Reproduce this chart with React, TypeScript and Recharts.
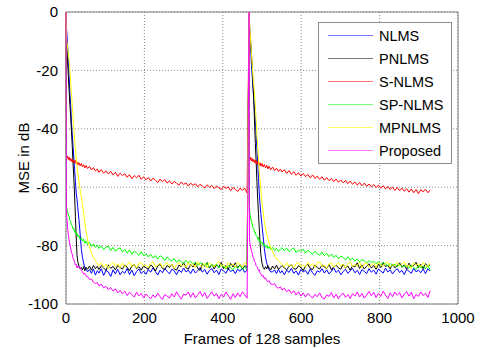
import React from "react";
import {
  LineChart,
  Line,
  XAxis,
  YAxis,
  CartesianGrid,
  ReferenceArea,
} from "recharts";

// frame offsets inside one run; the echo path changes at RESTART and the run is repeated
const RESTART = 467;
const REL_FRAMES = [
  0, 1, 2, 4, 6, 8, 10, 12, 14, 16,
  18, 20, 22, 24, 26, 28, 30, 33, 36, 39,
  42, 45, 48, 51, 55, 60, 65, 70, 75, 80,
  84, 90, 96, 102, 108, 114, 120, 126, 132, 138,
  144, 150, 156, 162, 168, 174, 180, 186, 192, 198,
  204, 210, 216, 222, 228, 234, 240, 246, 252, 258,
  264, 270, 276, 282, 288, 294, 300, 306, 312, 318,
  324, 330, 336, 342, 348, 354, 360, 366, 372, 378,
  384, 390, 396, 402, 408, 414, 420, 426, 432, 438,
  444, 450, 456, 462,
];

const X_TICKS = [0, 200, 400, 600, 800, 1000];
const Y_TICKS = [-100, -80, -60, -40, -20, 0];

// MSE in dB, first run / second run
const NLMS_1 = [
  0, -5, -7, -11, -16, -22, -28, -32, -38, -42,
  -46, -50, -54, -58, -62, -64, -67, -71, -76, -81,
  -84, -86, -87.5, -88, -89, -88.2, -89.5, -88.0, -90.1, -88.6,
  -89.4, -87.9, -90.2, -88.5, -89.0, -90.6, -88.3, -89.7, -88.1, -90.0,
  -88.8, -89.5, -87.8, -89.9, -88.4, -90.3, -88.9, -88.0, -89.6, -88.7,
  -89.8, -88.2, -89.1, -87.6, -88.9, -90.1, -88.4, -89.3, -87.9, -88.8,
  -89.7, -88.1, -88.6, -90.0, -88.3, -89.2, -87.7, -89.0, -88.4, -89.6,
  -88.0, -89.4, -88.6, -87.5, -89.1, -88.2, -89.8, -88.5, -87.9, -89.3,
  -88.4, -89.9, -88.0, -88.7, -89.5, -87.8, -88.9, -88.3, -89.6, -88.1,
  -88.8, -87.7, -89.2, -88.4,
];
const NLMS_2 = [
  0, -3, -8, -12, -18, -22, -26, -30, -33, -37,
  -42, -47, -52, -57, -62, -66, -69, -73, -77, -81,
  -84, -86, -87.3, -88.2, -89, -89.0, -88.3, -89.6, -88.1, -89.4,
  -88.6, -90.0, -88.4, -89.2, -87.8, -89.5, -88.7, -90.1, -88.2, -89.0,
  -88.5, -89.8, -88.0, -89.3, -90.2, -88.6, -89.1, -87.9, -89.4, -88.3,
  -89.7, -88.8, -87.6, -89.2, -88.4, -90.0, -88.9, -88.1, -89.5, -88.6,
  -87.8, -89.3, -88.5, -89.9, -88.2, -88.8, -89.6, -87.9, -89.1, -88.4,
  -89.8, -88.0, -88.7, -89.4, -87.7, -89.0, -88.3, -89.7, -88.6, -87.9,
  -89.2, -88.5, -89.9, -88.1, -88.8, -89.5, -87.8, -89.0, -88.4, -89.3,
  -88.0, -89.6, -87.9, -88.7,
];

const PNLMS_1 = [
  0, -8, -12, -17, -22, -27, -32, -36, -41, -46,
  -52, -57, -63, -70, -77, -83, -85.5, -87, -88, -87.5,
  -88.3, -87.2, -88.6, -87.4, -88.1, -87.0, -88.4, -86.8, -87.9, -87.1,
  -88.2, -86.9, -87.7, -88.5, -86.6, -87.8, -87.1, -88.3, -86.8, -87.5,
  -88.0, -86.7, -87.4, -88.6, -87.0, -86.5, -87.9, -87.2, -88.4, -86.9,
  -87.6, -88.1, -86.6, -87.3, -88.7, -87.0, -86.4, -87.8, -88.2, -86.8,
  -87.5, -86.3, -87.9, -88.4, -86.7, -87.2, -85.9, -87.6, -88.1, -86.5,
  -87.3, -86.0, -87.8, -88.5, -86.2, -87.1, -85.8, -87.7, -86.4, -88.0,
  -86.6, -87.4, -85.7, -87.9, -86.8, -88.2, -86.1, -87.3, -85.9, -87.6,
  -86.5, -88.0, -86.9, -87.4,
];
const PNLMS_2 = [
  0, -4, -7, -10, -14, -19, -24, -30, -38, -45,
  -51, -58, -64, -69, -74, -79, -83, -86, -87.5, -88.1,
  -87.2, -88.0, -86.9, -87.7, -88.4, -87.0, -87.9, -86.7, -88.2, -87.4,
  -86.8, -87.6, -88.3, -87.1, -86.5, -87.9, -88.1, -86.9, -87.4, -88.6,
  -87.0, -86.4, -87.8, -88.2, -86.7, -87.5, -88.0, -86.6, -87.3, -87.9,
  -86.5, -88.3, -87.2, -86.8, -87.6, -88.1, -86.4, -87.7, -87.0, -88.4,
  -86.9, -87.3, -85.9, -87.8, -86.6, -88.0, -87.1, -86.2, -87.7, -86.8,
  -88.1, -86.4, -87.5, -85.8, -87.2, -86.7, -88.0, -86.3, -87.6, -86.9,
  -85.9, -87.4, -86.6, -88.1, -86.0, -87.3, -86.8, -85.7, -87.5, -86.4,
  -87.9, -86.2, -87.0, -86.5,
];

const SNLMS_1 = [
  0, -49, -50.2, -49.3, -50.5, -49.8, -50.9, -50.1, -51.2, -50.4,
  -51.5, -50.8, -51.6, -50.9, -52.0, -51.3, -52.4, -51.6, -52.7, -51.9,
  -53.0, -52.3, -53.4, -52.6, -53.6, -52.9, -54.1, -53.3, -54.4, -53.8,
  -54.9, -54.0, -55.2, -54.4, -55.5, -54.6, -55.8, -54.9, -56.3, -55.2,
  -56.0, -55.4, -56.6, -55.7, -57.1, -56.0, -56.8, -55.9, -57.3, -56.4,
  -57.5, -56.7, -57.9, -56.9, -57.6, -58.4, -57.2, -58.1, -57.4, -58.6,
  -57.8, -58.9, -58.0, -58.7, -59.3, -58.2, -59.1, -58.5, -59.6, -58.6,
  -59.4, -58.8, -59.9, -59.0, -59.6, -60.3, -59.2, -60.0, -59.4, -60.5,
  -59.6, -60.2, -60.8, -59.7, -60.4, -59.9, -61.2, -60.1, -60.7, -61.5,
  -60.3, -61.0, -60.4, -62.0,
];
const SNLMS_2 = [
  0, -49.6, -50.8, -49.7, -51.0, -50.2, -51.3, -50.5, -51.6, -50.7,
  -51.9, -51.0, -52.2, -51.3, -52.5, -51.6, -52.8, -51.9, -53.1, -52.2,
  -53.4, -52.5, -53.7, -52.8, -54.0, -53.1, -54.3, -53.5, -54.6, -53.8,
  -54.8, -54.0, -55.3, -54.3, -55.6, -54.7, -55.9, -55.0, -56.2, -55.3,
  -56.4, -55.6, -56.8, -55.8, -57.0, -56.2, -57.3, -56.4, -57.6, -56.7,
  -57.8, -57.0, -58.1, -57.2, -58.3, -57.5, -58.5, -57.7, -58.8, -57.9,
  -59.0, -58.2, -59.3, -58.4, -59.5, -58.6, -59.7, -58.9, -59.9, -59.1,
  -60.1, -59.3, -60.4, -59.5, -60.6, -59.7, -60.8, -59.9, -61.1, -60.1,
  -61.2, -60.3, -61.4, -60.5, -61.7, -60.6, -61.9, -60.8, -62.2, -60.9,
  -61.6, -60.7, -61.9, -61.0,
];

const SPNLMS_1 = [
  0, -66, -67.5, -68.3, -69.5, -70.2, -71.4, -71.9, -73.0, -73.2,
  -74.3, -74.0, -75.4, -75.1, -76.3, -75.8, -77.0, -76.6, -77.9, -77.3,
  -78.5, -77.8, -79.2, -78.4, -79.6, -78.9, -80.3, -79.4, -80.6, -79.8,
  -81.0, -80.1, -81.4, -80.5, -80.2, -81.7, -80.6, -82.0, -81.1, -80.8,
  -82.2, -81.3, -82.6, -81.5, -83.0, -81.9, -82.5, -83.3, -82.1, -83.6,
  -82.7, -83.9, -83.0, -84.2, -83.4, -84.6, -83.5, -84.0, -85.1, -83.9,
  -84.8, -85.3, -84.4, -85.7, -84.9, -85.5, -86.1, -85.0, -86.0, -85.4,
  -86.4, -85.6, -86.8, -85.9, -86.2, -87.1, -86.0, -87.4, -86.5, -87.0,
  -86.3, -87.6, -86.8, -87.2, -88.0, -86.9, -87.5, -88.3, -87.0, -87.8,
  -86.7, -88.1, -87.3, -88.4,
];
const SPNLMS_2 = [
  0, -67, -69, -70.3, -71.8, -72.6, -73.9, -74.2, -75.5, -75.3,
  -76.6, -76.9, -77.8, -77.2, -78.6, -78.1, -79.3, -78.8, -80.0, -79.4,
  -80.6, -79.9, -81.0, -80.3, -81.4, -80.6, -81.7, -80.9, -82.0, -81.2,
  -80.7, -81.8, -80.9, -82.1, -81.3, -80.8, -82.4, -81.5, -82.0, -81.2,
  -82.6, -81.6, -82.3, -83.0, -81.9, -82.8, -83.3, -82.2, -83.5, -82.6,
  -83.8, -82.9, -84.1, -83.3, -84.5, -83.6, -84.0, -84.9, -83.8, -85.0,
  -84.3, -85.3, -84.6, -85.6, -84.8, -85.2, -86.0, -85.1, -85.8, -85.4,
  -86.2, -85.5, -86.6, -85.8, -86.3, -87.0, -86.1, -86.8, -86.4, -87.2,
  -86.5, -87.4, -86.9, -87.1, -87.8, -86.7, -87.5, -88.2, -86.9, -87.6,
  -87.0, -88.0, -86.8, -88.3,
];

const MPNLMS_1 = [
  0, -8, -10, -12, -14, -17, -20, -24, -28, -32,
  -36, -40, -44, -47, -50, -52.5, -55, -58, -61, -63,
  -66, -69, -72, -75, -78, -80.5, -82.5, -84, -85.2, -86,
  -86.9, -85.9, -87.4, -86.3, -87.8, -86.5, -85.7, -87.1, -86.2, -87.5,
  -86.0, -87.3, -86.6, -85.6, -87.2, -86.4, -87.7, -86.1, -85.8, -87.0,
  -86.7, -87.6, -86.2, -85.5, -87.3, -86.8, -86.0, -87.5, -86.4, -85.9,
  -87.1, -86.3, -87.8, -86.5, -85.7, -87.0, -86.6, -87.4, -85.8, -86.9,
  -86.2, -87.5, -85.6, -86.8, -87.2, -86.0, -87.6, -85.9, -86.7, -87.3,
  -86.1, -85.4, -87.0, -86.5, -87.7, -85.8, -86.9, -86.3, -87.4, -85.7,
  -86.6, -87.2, -85.9, -86.8,
];
const MPNLMS_2 = [
  0, -3, -6, -10, -14, -18, -22, -25, -28, -32,
  -37, -42, -46, -50, -54, -57.5, -61, -65, -68.5, -72,
  -74, -76, -77.5, -79, -80.5, -82, -83.5, -84.5, -85.3, -85.8,
  -86.4, -87.3, -85.9, -87.0, -86.5, -87.6, -86.1, -85.8, -87.2, -86.6,
  -87.4, -85.7, -86.9, -86.2, -87.5, -86.0, -85.6, -87.1, -86.7, -87.8,
  -86.3, -85.9, -87.4, -86.6, -85.8, -87.0, -86.4, -87.7, -86.1, -85.5,
  -87.2, -86.5, -86.9, -85.7, -87.6, -86.2, -85.9, -87.3, -86.8, -86.0,
  -87.5, -85.8, -86.7, -87.1, -86.0, -85.6, -87.4, -86.5, -86.9, -85.7,
  -87.0, -86.3, -85.5, -87.2, -86.6, -87.8, -85.9, -86.8, -86.2, -87.3,
  -85.8, -86.7, -87.1, -86.0,
];

const PROPOSED_1 = [
  0, -67, -70.5, -73.8, -76.2, -78.0, -79.8, -80.9, -82.3, -83.0,
  -84.4, -84.9, -85.8, -86.7, -86.4, -87.6, -87.0, -87.6, -87.4, -88.5,
  -88.9, -89.8, -89.5, -90.4, -90.6, -91.6, -91.4, -92.5, -93.0, -92.7,
  -93.8, -93.2, -94.5, -93.9, -95.1, -94.4, -95.6, -94.8, -96.2, -95.3,
  -96.5, -95.6, -97.1, -96.0, -96.8, -97.6, -95.9, -97.2, -96.4, -97.9,
  -96.6, -97.4, -98.2, -96.9, -97.8, -96.3, -97.5, -98.4, -96.8, -97.3,
  -98.0, -96.5, -97.6, -95.8, -97.2, -98.3, -96.6, -97.0, -95.9, -97.7,
  -96.2, -97.9, -96.8, -95.7, -97.4, -96.1, -98.1, -96.9, -95.8, -97.3,
  -96.4, -98.2, -96.7, -97.6, -95.9, -97.1, -98.4, -96.5, -97.8, -96.2,
  -97.5, -95.8, -96.9, -98.0,
];
const PROPOSED_2 = [
  0, -77, -79, -80.5, -81.8, -82.6, -83.9, -84.3, -85.5, -85.8,
  -86.9, -87.2, -87.8, -88.6, -88.3, -89.4, -89.7, -90.5, -90.2, -91.3,
  -91.0, -91.9, -92.4, -92.0, -93.1, -93.4, -93.0, -94.2, -94.6, -94.1,
  -95.2, -94.6, -95.8, -95.1, -96.4, -95.5, -96.9, -95.8, -97.3, -96.2,
  -97.6, -96.4, -97.1, -98.0, -96.7, -97.5, -96.2, -97.8, -98.3, -96.9,
  -97.4, -96.1, -97.9, -96.6, -98.2, -97.0, -96.3, -97.7, -96.8, -98.1,
  -96.5, -97.3, -95.9, -97.6, -96.4, -98.0, -96.9, -95.7, -97.2, -96.0,
  -97.8, -96.3, -97.4, -95.6, -96.9, -98.1, -96.2, -97.5, -95.9, -97.0,
  -96.1, -97.9, -96.6, -95.8, -97.3, -96.0, -98.2, -96.7, -97.4, -95.9,
  -97.1, -96.3, -97.8, -95.4,
];

const SERIES = [
  { key: "nlms", name: "NLMS", color: "#0000ff", swatch: "#7878ff", runs: [NLMS_1, NLMS_2] },
  { key: "pnlms", name: "PNLMS", color: "#000000", swatch: "#787878", runs: [PNLMS_1, PNLMS_2] },
  { key: "snlms", name: "S-NLMS", color: "#ff0000", swatch: "#ff7878", runs: [SNLMS_1, SNLMS_2] },
  { key: "spnlms", name: "SP-NLMS", color: "#00ff00", swatch: "#78ff78", runs: [SPNLMS_1, SPNLMS_2] },
  { key: "mpnlms", name: "MPNLMS", color: "#ffff00", swatch: "#ffff66", runs: [MPNLMS_1, MPNLMS_2] },
  { key: "proposed", name: "Proposed", color: "#ff00ff", swatch: "#ff78ff", runs: [PROPOSED_1, PROPOSED_2] },
];

const rows: Record<string, number>[] = [];
[0, 1].forEach((run) => {
  REL_FRAMES.forEach((f, i) => {
    const row: Record<string, number> = { frame: f + run * RESTART };
    SERIES.forEach((s) => {
      row[s.key] = s.runs[run][i];
    });
    rows.push(row);
  });
});

const FONT = '"Liberation Sans", Arial, sans-serif';

// matlab style boxed legend, laid over the plot
const BoxLegend = () => (
  <div
    style={{
      position: "absolute",
      left: 318,
      top: 22,
      width: 134,
      height: 142,
      boxSizing: "border-box",
      border: "1px solid #8c8c8c",
      background: "#fff",
      paddingTop: 1,
      fontFamily: FONT,
    }}
  >
    {SERIES.map((s) => (
      <div
        key={s.key}
        style={{ height: 23, display: "flex", alignItems: "center", fontSize: 14.5, color: "#000" }}
      >
        <svg width={45} height={3} style={{ marginLeft: 9, display: "block" }}>
          <line x1={0} y1={1.5} x2={45} y2={1.5} stroke={s.swatch} strokeWidth={1.2} />
        </svg>
        <span style={{ marginLeft: 6 }}>{s.name}</span>
      </div>
    ))}
  </div>
);

export default function App() {
  return (
    <div
      style={{
        position: "absolute",
        left: 0,
        top: 0,
        width: 480,
        height: 348,
        background: "#fff",
        fontFamily: FONT,
      }}
    >
      <LineChart
        width={480}
        height={348}
        data={rows}
        margin={{ top: 12, right: 22, bottom: 0, left: 0 }}
      >
        <CartesianGrid stroke="#8a8a8a" strokeDasharray="1 2" />
        <ReferenceArea
          x1={0}
          x2={1000}
          y1={-100}
          y2={0}
          fill="none"
          stroke="#7f7f7f"
          strokeWidth={1}
        />
        <XAxis
          dataKey="frame"
          type="number"
          domain={[0, 1000]}
          ticks={X_TICKS}
          height={44}
          tickLine={false}
          axisLine={false}
          tick={{ fill: "#000", fontSize: 15 }}
          label={{
            value: "Frames of 128 samples",
            position: "insideBottom",
            offset: 4,
            fill: "#000",
            fontSize: 15,
          }}
        />
        <YAxis
          type="number"
          domain={[-100, 0]}
          ticks={Y_TICKS}
          width={66}
          tickLine={false}
          axisLine={false}
          tick={{ fill: "#000", fontSize: 15 }}
          label={{
            value: "MSE in dB",
            angle: -90,
            position: "insideLeft",
            offset: 24,
            fill: "#000",
            fontSize: 15,
            style: { textAnchor: "middle" },
          }}
        />
        {SERIES.map((s) => (
          <Line
            key={s.key}
            dataKey={s.key}
            name={s.name}
            stroke={s.color}
            strokeWidth={1}
            dot={false}
            activeDot={false}
            isAnimationActive={false}
          />
        ))}
      </LineChart>
      <BoxLegend />
    </div>
  );
}
